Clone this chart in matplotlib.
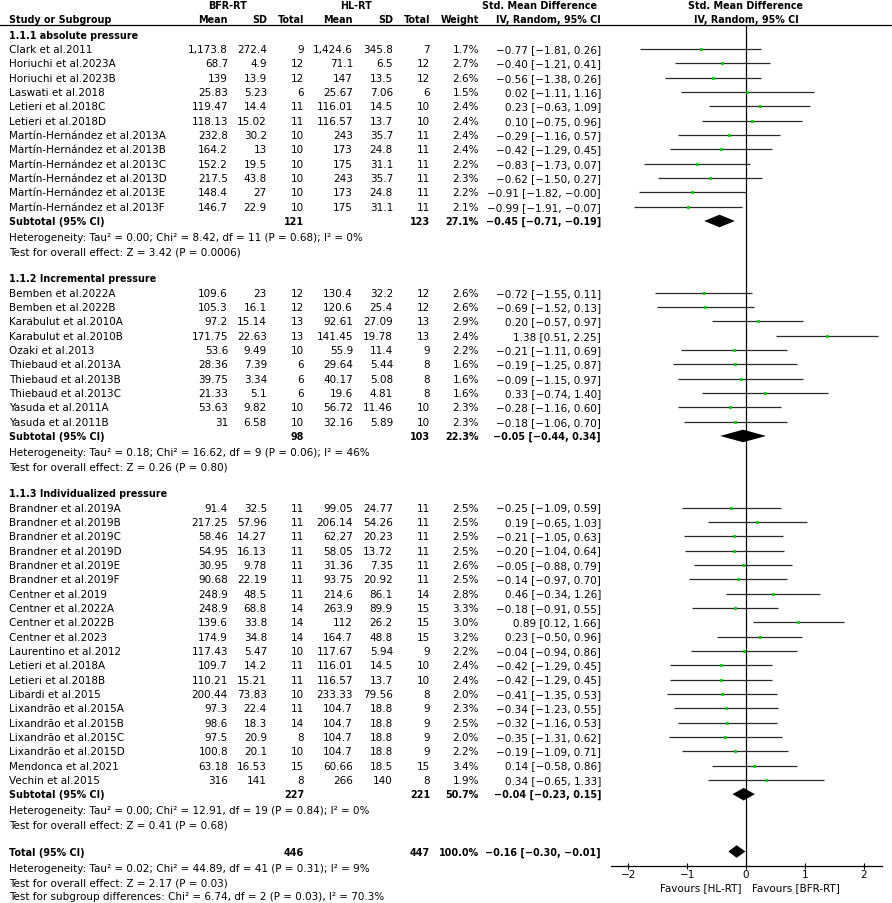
import numpy as np
import matplotlib
matplotlib.use("Agg")
import matplotlib.pyplot as plt

plt.rcParams['font.family'] = ['DejaVu Sans']

# ---- data ----
names1 = ["Clark et al.2011", "Horiuchi et al.2023A", "Horiuchi et al.2023B", "Laswati et al.2018",
          "Letieri et al.2018C", "Letieri et al.2018D", "Martín-Hernández et al.2013A",
          "Martín-Hernández et al.2013B", "Martín-Hernández et al.2013C", "Martín-Hernández et al.2013D",
          "Martín-Hernández et al.2013E", "Martín-Hernández et al.2013F"]
bfr_mean1 = [1173.8, 68.7, 139, 25.83, 119.47, 118.13, 232.8, 164.2, 152.2, 217.5, 148.4, 146.7]
bfr_sd1 = [272.4, 4.9, 13.9, 5.23, 14.4, 15.02, 30.2, 13, 19.5, 43.8, 27, 22.9]
bfr_n1 = [9, 12, 12, 6, 11, 11, 10, 10, 10, 10, 10, 10]
hl_mean1 = [1424.6, 71.1, 147, 25.67, 116.01, 116.57, 243, 173, 175, 243, 173, 175]
hl_sd1 = [345.8, 6.5, 13.5, 7.06, 14.5, 13.7, 35.7, 24.8, 31.1, 35.7, 24.8, 31.1]
hl_n1 = [7, 12, 12, 6, 10, 10, 11, 11, 11, 11, 11, 11]
weight1 = [1.7, 2.7, 2.6, 1.5, 2.4, 2.4, 2.4, 2.4, 2.2, 2.3, 2.2, 2.1]
smd1 = [-0.77, -0.40, -0.56, 0.02, 0.23, 0.10, -0.29, -0.42, -0.83, -0.62, -0.91, -0.99]
lo1 = [-1.81, -1.21, -1.38, -1.11, -0.63, -0.75, -1.16, -1.29, -1.73, -1.50, -1.82, -1.91]
hi1 = [0.26, 0.41, 0.26, 1.16, 1.09, 0.96, 0.57, 0.45, 0.07, 0.27, -0.004, -0.07]

names2 = ["Bemben et al.2022A", "Bemben et al.2022B", "Karabulut et al.2010A", "Karabulut et al.2010B",
          "Ozaki et al.2013", "Thiebaud et al.2013A", "Thiebaud et al.2013B", "Thiebaud et al.2013C",
          "Yasuda et al.2011A", "Yasuda et al.2011B"]
bfr_mean2 = [109.6, 105.3, 97.2, 171.75, 53.6, 28.36, 39.75, 21.33, 53.63, 31]
bfr_sd2 = [23, 16.1, 15.14, 22.63, 9.49, 7.39, 3.34, 5.1, 9.82, 6.58]
bfr_n2 = [12, 12, 13, 13, 10, 6, 6, 6, 10, 10]
hl_mean2 = [130.4, 120.6, 92.61, 141.45, 55.9, 29.64, 40.17, 19.6, 56.72, 32.16]
hl_sd2 = [32.2, 25.4, 27.09, 19.78, 11.4, 5.44, 5.08, 4.81, 11.46, 5.89]
hl_n2 = [12, 12, 13, 13, 9, 8, 8, 8, 10, 10]
weight2 = [2.6, 2.6, 2.9, 2.4, 2.2, 1.6, 1.6, 1.6, 2.3, 2.3]
smd2 = [-0.72, -0.69, 0.20, 1.38, -0.21, -0.19, -0.09, 0.33, -0.28, -0.18]
lo2 = [-1.55, -1.52, -0.57, 0.51, -1.11, -1.25, -1.15, -0.74, -1.16, -1.06]
hi2 = [0.11, 0.13, 0.97, 2.25, 0.69, 0.87, 0.97, 1.40, 0.60, 0.70]

names3 = ["Brandner et al.2019A", "Brandner et al.2019B", "Brandner et al.2019C", "Brandner et al.2019D",
          "Brandner et al.2019E", "Brandner et al.2019F", "Centner et al.2019", "Centner et al.2022A",
          "Centner et al.2022B", "Centner et al.2023", "Laurentino et al.2012", "Letieri et al.2018A",
          "Letieri et al.2018B", "Libardi et al.2015", "Lixandrão et al.2015A", "Lixandrão et al.2015B",
          "Lixandrão et al.2015C", "Lixandrão et al.2015D", "Mendonca et al.2021", "Vechin et al.2015"]
bfr_mean3 = [91.4, 217.25, 58.46, 54.95, 30.95, 90.68, 248.9, 248.9, 139.6, 174.9, 117.43, 109.7,
             110.21, 200.44, 97.3, 98.6, 97.5, 100.8, 63.18, 316]
bfr_sd3 = [32.5, 57.96, 14.27, 16.13, 9.78, 22.19, 48.5, 68.8, 33.8, 34.8, 5.47, 14.2,
           15.21, 73.83, 22.4, 18.3, 20.9, 20.1, 16.53, 141]
bfr_n3 = [11, 11, 11, 11, 11, 11, 11, 14, 14, 14, 10, 11, 11, 10, 11, 14, 8, 10, 15, 8]
hl_mean3 = [99.05, 206.14, 62.27, 58.05, 31.36, 93.75, 214.6, 263.9, 112, 164.7, 117.67, 116.01,
            116.57, 233.33, 104.7, 104.7, 104.7, 104.7, 60.66, 266]
hl_sd3 = [24.77, 54.26, 20.23, 13.72, 7.35, 20.92, 86.1, 89.9, 26.2, 48.8, 5.94, 14.5,
          13.7, 79.56, 18.8, 18.8, 18.8, 18.8, 18.5, 140]
hl_n3 = [11, 11, 11, 11, 11, 11, 14, 15, 15, 15, 9, 10, 10, 8, 9, 9, 9, 9, 15, 8]
weight3 = [2.5, 2.5, 2.5, 2.5, 2.6, 2.5, 2.8, 3.3, 3.0, 3.2, 2.2, 2.4, 2.4, 2.0, 2.3, 2.5, 2.0, 2.2, 3.4, 1.9]
smd3 = [-0.25, 0.19, -0.21, -0.20, -0.05, -0.14, 0.46, -0.18, 0.89, 0.23, -0.04, -0.42,
        -0.42, -0.41, -0.34, -0.32, -0.35, -0.19, 0.14, 0.34]
lo3 = [-1.09, -0.65, -1.05, -1.04, -0.88, -0.97, -0.34, -0.91, 0.12, -0.50, -0.94, -1.29,
       -1.29, -1.35, -1.23, -1.16, -1.31, -1.09, -0.58, -0.65]
hi3 = [0.59, 1.03, 0.63, 0.64, 0.79, 0.70, 1.26, 0.55, 1.66, 0.96, 0.86, 0.45,
       0.45, 0.53, 0.55, 0.53, 0.62, 0.71, 0.86, 1.33]

group_titles = ["1.1.1 absolute pressure", "1.1.2 Incremental pressure", "1.1.3 Individualized pressure"]
sub_n_bfr = [121, 98, 227]
sub_n_hl = [123, 103, 221]
sub_weight = [27.1, 22.3, 50.7]
sub_smd = [-0.45, -0.05, -0.04]
sub_lo = [-0.71, -0.44, -0.23]
sub_hi = [-0.19, 0.34, 0.15]
sub_het = ["Heterogeneity: Tau² = 0.00; Chi² = 8.42, df = 11 (P = 0.68); I² = 0%",
           "Heterogeneity: Tau² = 0.18; Chi² = 16.62, df = 9 (P = 0.06); I² = 46%",
           "Heterogeneity: Tau² = 0.00; Chi² = 12.91, df = 19 (P = 0.84); I² = 0%"]
sub_z = ["Test for overall effect: Z = 3.42 (P = 0.0006)",
         "Test for overall effect: Z = 0.26 (P = 0.80)",
         "Test for overall effect: Z = 0.41 (P = 0.68)"]

total_n_bfr, total_n_hl, total_weight = 446, 447, 100.0
total_smd, total_lo, total_hi = -0.16, -0.30, -0.01
total_lines = ["Heterogeneity: Tau² = 0.02; Chi² = 44.89, df = 41 (P = 0.31); I² = 9%",
               "Test for overall effect: Z = 2.17 (P = 0.03)",
               "Test for subgroup differences: Chi² = 6.74, df = 2 (P = 0.03), I² = 70.3%"]

groups = [
    (names1, bfr_mean1, bfr_sd1, bfr_n1, hl_mean1, hl_sd1, hl_n1, weight1, smd1, lo1, hi1),
    (names2, bfr_mean2, bfr_sd2, bfr_n2, hl_mean2, hl_sd2, hl_n2, weight2, smd2, lo2, hi2),
    (names3, bfr_mean3, bfr_sd3, bfr_n3, hl_mean3, hl_sd3, hl_n3, weight3, smd3, lo3, hi3),
]

# ---- layout (pixels) ----
W, H = 892, 904
fs = 7.5      # normal text
fsb = 6.9     # bold text
x_name = 9
x_bm, x_bsd, x_bn, x_hm, x_hsd, x_hn, x_w, x_ci = 228, 267, 304, 353, 393, 430, 479, 601
y0, pitch = 35.7, 14.33
ax_left, ax_right, ax_top, ax_bot = 611, 882, 26, 866.7
zero_px, unit_px = 746, 58.8

def num(v):
    return f"{v:,}"

def m(s):
    return s.replace("-", "\u2212")

def ci_txt(e, l, h):
    return m(f"{e:.2f} [{l:.2f}, {h:.2f}]")

def rowy(i):
    return y0 + pitch * i

fig = plt.figure(figsize=(W / 100, H / 100), dpi=100)
bg = fig.add_axes([0, 0, 1, 1])
bg.set_xlim(0, W)
bg.set_ylim(H, 0)
bg.axis("off")

fx = fig.add_axes([ax_left / W, 1 - ax_bot / H, (ax_right - ax_left) / W, (ax_bot - ax_top) / H])
fx.set_xlim((ax_left - zero_px) / unit_px, (ax_right - zero_px) / unit_px)
fx.set_ylim(ax_bot, ax_top)
fx.patch.set_alpha(0)
for s in ["top", "right", "left"]:
    fx.spines[s].set_visible(False)
fx.spines["bottom"].set_linewidth(0.9)
fx.set_yticks([])
fx.set_xticks([-2, -1, 0, 1, 2])
fx.set_xticklabels([m(str(t)) for t in [-2, -1, 0, 1, 2]], fontsize=fs)
fx.tick_params(axis="x", direction="inout", length=5, width=0.8, pad=0)
fx.axvline(0, color="black", lw=0.9)

def txt(x, y, s, ha="right", bold=False, size=None):
    if size is None:
        size = fsb if bold else fs
    bg.text(x, y, s, ha=ha, va="center", fontsize=size, fontweight="bold" if bold else "normal")

# headers
txt(228, 6, "BFR-RT", ha="center", bold=True)
txt(356, 6, "HL-RT", ha="center", bold=True)
txt(540, 6, "Std. Mean Difference", ha="center", bold=True)
txt(746, 6, "Std. Mean Difference", ha="center", bold=True)
txt(x_name, 20, "Study or Subgroup", ha="left", bold=True)
for x, lab in [(x_bm, "Mean"), (x_bsd, "SD"), (x_bn, "Total"), (x_hm, "Mean"),
               (x_hsd, "SD"), (x_hn, "Total"), (x_w, "Weight")]:
    txt(x, 20, lab, bold=True)
txt(548, 20, "IV, Random, 95% CI", ha="center", bold=True)
txt(746, 20, "IV, Random, 95% CI", ha="center", bold=True)
bg.plot([0, W], [26, 26], color="black", lw=0.9)

def diamond(y, e, l, h):
    half = 6.3
    fx.fill([l, e, h, e], [y, y - half, y, y + half], color="black", lw=0)

row = 0
for g, grp in enumerate(groups):
    names, bm, bsd, bn, hm, hsd, hn, w, e, l, h = grp
    txt(x_name, rowy(row), group_titles[g], ha="left", bold=True)
    row += 1
    for k in range(len(names)):
        y = rowy(row)
        txt(x_name, y, names[k], ha="left")
        txt(x_bm, y, num(bm[k])); txt(x_bsd, y, num(bsd[k])); txt(x_bn, y, str(bn[k]))
        txt(x_hm, y, num(hm[k])); txt(x_hsd, y, num(hsd[k])); txt(x_hn, y, str(hn[k]))
        txt(x_w, y, f"{w[k]:.1f}%")
        txt(x_ci, y, ci_txt(e[k], l[k], h[k]))
        fx.plot([l[k], h[k]], [y, y], color="#2a2a2a", lw=0.9, solid_capstyle="butt")
        fx.plot(e[k], y, marker="s", ms=1.2 + 0.2 * w[k], color="#00cc00",
                mec="#00cc00", mew=0.6)
        row += 1
    y = rowy(row)
    txt(x_name, y, "Subtotal (95% CI)", ha="left", bold=True)
    txt(x_bn, y, str(sub_n_bfr[g]), bold=True)
    txt(x_hn, y, str(sub_n_hl[g]), bold=True)
    txt(x_w, y, f"{sub_weight[g]:.1f}%", bold=True)
    txt(x_ci, y, ci_txt(sub_smd[g], sub_lo[g], sub_hi[g]), bold=True)
    diamond(y, sub_smd[g], sub_lo[g], sub_hi[g])
    row += 1
    txt(x_name, rowy(row) + 1.5, sub_het[g], ha="left")
    row += 1
    txt(x_name, rowy(row) + 1.5, sub_z[g], ha="left")
    row += 2

y = rowy(row)
txt(x_name, y, "Total (95% CI)", ha="left", bold=True)
txt(x_bn, y, str(total_n_bfr), bold=True)
txt(x_hn, y, str(total_n_hl), bold=True)
txt(x_w, y, f"{total_weight:.1f}%", bold=True)
txt(x_ci, y, ci_txt(total_smd, total_lo, total_hi), bold=True)
diamond(y, total_smd, total_lo, total_hi)
row += 1
for line in total_lines:
    txt(x_name, rowy(row) + 2, line, ha="left")
    row += 1

txt(741, 888, "Favours [HL-RT]", ha="right")
txt(752, 888, "Favours [BFR-RT]", ha="left")

fig.savefig("out.png", dpi=100)
